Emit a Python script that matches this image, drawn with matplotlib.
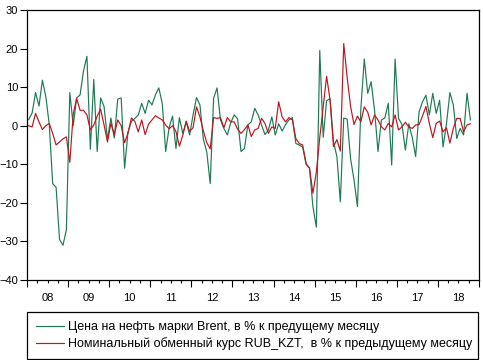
import numpy as np
import matplotlib
matplotlib.use("Agg")
import matplotlib.pyplot as plt
from matplotlib.transforms import blended_transform_factory

plt.rcParams['font.family'] = ['Liberation Sans', 'DejaVu Sans']

# Monthly % changes, Jan 2008 .. Oct 2018
brent = [
    1.6, 3.3, 8.6, 5.1, 11.8, 7.5, 0.3, -15.0, -16.0, -29.5, -31.0, -27.0,      # 2008
    8.6, 0.0, 7.2, 8.0, 14.2, 18.0, -6.1, 12.0, -6.7, 7.2, 5.0, -3.5,           # 2009
    2.0, -3.2, 6.9, 7.2, -11.0, -1.6, 1.1, 1.9, 2.8, 5.8, 3.2, 6.6,             # 2010
    5.4, 8.0, 9.8, 5.8, -6.7, -0.5, 2.5, -5.9, 2.1, -2.0, 1.0, -2.4,            # 2011
    2.8, 7.3, 5.4, -3.5, -6.8, -15.0, 7.1, 9.8, 1.5, -0.7, -2.4, 0.8,           # 2012
    2.8, 1.8, -6.7, -5.9, 0.2, 1.0, 4.5, 2.8, 0.2, -2.3, -1.1, 2.3,             # 2013
    -2.4, 0.5, -1.4, 0.3, 1.5, 2.1, -4.6, -5.0, -5.5, -10.0, -11.0, -21.0,      # 2014
    -26.3, 19.5, -3.0, 6.5, 7.0, -4.1, -8.0, -19.7, 2.0, 1.7, -8.6, -14.0,      # 2015
    -21.0, 4.5, 17.3, 8.4, 11.4, 4.0, -6.7, 1.5, 2.0, 5.8, -10.2, 17.3,         # 2016
    1.9, 0.3, -6.3, 0.5, -3.0, -8.0, 3.6, 6.2, 7.9, 2.8, 8.4, 3.2,              # 2017
    6.6, -5.5, 0.5, 8.6, 5.4, -3.3, -0.7, -2.4, 8.4, 1.5,                       # 2018
]
rub_kzt = [
    0.0, -0.3, 3.2, 1.0, -1.0, 0.0, 0.6, -2.0, -5.0, -4.2, -3.4, -2.9,          # 2008
    -9.5, 3.0, 7.1, 4.0, 4.0, 2.8, -1.1, 0.2, 2.5, 4.3, 0.2, -4.2,              # 2009
    0.6, -2.4, 1.5, 0.0, -4.4, -1.9, 2.0, 1.1, -1.6, 1.5, -2.3, 0.4,            # 2010
    1.5, 2.6, 2.0, 1.5, 0.2, -0.8, 0.0, -1.5, -5.3, -2.5, 1.2, -1.5,            # 2011
    -0.5, 4.9, 2.3, -1.3, -4.4, -6.0, 2.1, 1.9, 2.1, -0.5, 2.1, 1.0,            # 2012
    1.0, -0.9, -2.0, -1.0, 0.2, -2.8, -1.1, -0.7, 1.9, 0.6, -2.0, -0.3,         # 2013
    -0.7, 6.2, 2.3, 1.0, 2.1, 1.5, -3.3, -4.6, -5.0, -9.8, -11.0, -17.5,        # 2014
    -12.0, -3.0, 5.0, 12.8, 6.7, -5.4, -3.6, -6.6, 21.3, 12.5, 5.0, 0.3,        # 2015
    2.5, 1.0, 4.9, 3.5, 0.2, 2.8, 1.5, -0.3, -1.1, 0.6, -0.3, 2.8,              # 2016
    -1.1, -0.3, 0.9, -0.3, -0.7, 0.2, 0.3, 2.5, 5.0, 0.6, -3.1, 0.6,            # 2017
    1.2, -1.6, -0.5, -4.5, -0.7, 1.9, 1.9, -1.6, 0.2, 0.5,                      # 2018
]
year_labels = ['08', '09', '10', '11', '12', '13', '14', '15', '16', '17', '18']
legend_labels = [
    'Цена на нефть марки Brent, в % к предущему месяцу',
    'Номинальный обменный курс RUB_KZT,  в % к предыдущему месяцу',
]

start_year = 2008
n = len(brent)
t = start_year + (np.arange(n) + 0.5) / 12.0

W, H = 483, 360
fig = plt.figure(figsize=(W / 100, H / 100), dpi=100)
ax = fig.add_axes([27 / W, 1 - 280 / H, 452 / W, 270 / H])

green = '#1d7a52'
red = '#c0141e'
l1, = ax.plot(t, brent, color=green, lw=0.85)
l2, = ax.plot(t, rub_kzt, color=red, lw=0.85)

ax.set_xlim(start_year, start_year + len(year_labels))
ax.set_ylim(-40, 30)
ax.set_yticks(np.arange(-40, 31, 10))
ax.tick_params(axis='y', direction='out', length=5, width=0.8, labelsize=8, pad=1.5)

years = np.arange(start_year, start_year + len(year_labels) + 1)
ax.set_xticks(years)
ax.set_xticklabels([])
quarters = np.arange(start_year, start_year + len(year_labels), 0.25)
ax.set_xticks(quarters, minor=True)
ax.tick_params(axis='x', which='major', direction='out', length=5, width=0.8)
ax.tick_params(axis='x', which='minor', direction='out', length=2.5, width=0.8)

trans = blended_transform_factory(ax.transData, ax.transAxes)
for k, lab in enumerate(year_labels):
    ax.text(start_year + k + 0.5, -0.065, lab, transform=trans,
            ha='center', va='center', fontsize=8)

for s in ax.spines.values():
    s.set_linewidth(0.9)
    s.set_color('black')

leg = fig.legend([l1, l2], legend_labels, loc='lower left',
                 bbox_to_anchor=(27 / W, 1 / H, 451 / W, 46 / H),
                 mode='expand', fancybox=False, edgecolor='black', framealpha=1,
                 fontsize=9, handlelength=2.2, handletextpad=0.4,
                 borderpad=0.72, labelspacing=0.3, borderaxespad=0)
leg.get_frame().set_linewidth(0.9)

fig.savefig('out.png', dpi=100)
